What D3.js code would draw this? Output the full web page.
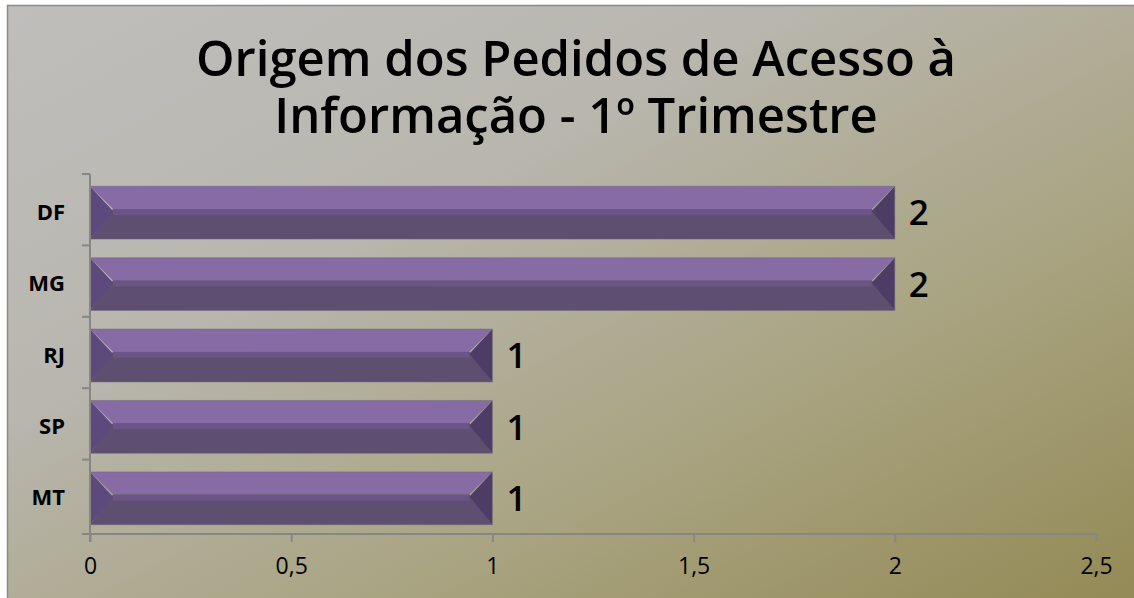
<!DOCTYPE html>
<html>
<head>
<meta charset="utf-8">
<script src="https://cdn.jsdelivr.net/npm/d3@7"></script>
<style>
  body { margin: 0; background: #ffffff; overflow: hidden; }
  svg { display: block; }
</style>
</head>
<body>
<svg id="chart" width="1134" height="598"></svg>
<script>
// data
const states = ['DF', 'MG', 'RJ', 'SP', 'MT'];
const pedidos = [2, 2, 1, 1, 1];
const xTicks = [0, 0.5, 1, 1.5, 2, 2.5];
const titleLines = ['Origem dos Pedidos de Acesso à', 'Informação - 1º Trimestre'];

const svg = d3.select('#chart');
const width = +svg.attr('width');
const height = +svg.attr('height');

const margin = {top: 177, left: 90, right: 38, bottom: 64};

// background gradient, grey top-left to olive bottom-right
const defs = svg.append('defs');
const bg = defs.append('linearGradient')
    .attr('id', 'bg-grad')
    .attr('x1', '0%').attr('y1', '0%')
    .attr('x2', '100%').attr('y2', '100%');
bg.append('stop').attr('offset', '0%').attr('stop-color', '#bfbebc');
bg.append('stop').attr('offset', '35%').attr('stop-color', '#b8b6ae');
bg.append('stop').attr('offset', '65%').attr('stop-color', '#aaa584');
bg.append('stop').attr('offset', '100%').attr('stop-color', '#948a56');

svg.append('rect')
    .attr('x', 7).attr('y', 5)
    .attr('width', width - 7).attr('height', height - 5)
    .attr('fill', 'url(#bg-grad)');
// only top and left edges of the frame are inside the picture
svg.append('path')
    .attr('d', `M7.5,${height}V5.5H${width}`)
    .attr('fill', 'none')
    .attr('stroke', '#8a8a8a')
    .attr('stroke-width', 1.5);

// title
svg.append('text')
    .attr('text-anchor', 'middle')
    .attr('font-family', 'Open Sans, sans-serif')
    .attr('font-weight', 600)
    .attr('font-size', 49)
    .attr('fill', '#000')
    .selectAll('tspan')
    .data(titleLines)
    .join('tspan')
        .attr('x', 576)
        .attr('y', (d, i) => 76 + i * 57)
        .text(d => d);

const x = d3.scaleLinear()
    .domain([0, 2.5])
    .range([margin.left, width - margin.right]);

const y = d3.scaleBand()
    .domain(states)
    .range([margin.top, height - margin.bottom])
    .paddingInner(0.26)
    .paddingOuter(0.13);

const axisColor = '#868686';

// bars with a bevelled look
const bars = svg.append('g').selectAll('g')
    .data(states.map((s, i) => ({state: s, value: pedidos[i]})))
    .join('g');

const bev = 23;
const pts = arr => arr.map(p => p.join(',')).join(' ');

bars.each(function(d) {
    const g = d3.select(this);
    const x0 = x(0), x1 = x(d.value);
    const y0 = y(d.state), y1 = y0 + y.bandwidth();
    const mid = y0 + y.bandwidth() * 0.43;
    g.append('polygon')
        .attr('points', pts([[x0, y0], [x1, y0], [x1 - bev, mid], [x0 + bev, mid]]))
        .attr('fill', '#876ba5');
    g.append('polygon')
        .attr('points', pts([[x0 + bev, mid], [x1 - bev, mid], [x1, y1], [x0, y1]]))
        .attr('fill', '#5e4f70');
    g.append('rect')
        .attr('x', x0 + bev).attr('y', mid)
        .attr('width', Math.max(0, x1 - x0 - 2 * bev)).attr('height', 6)
        .attr('fill', '#6a5586');
    g.append('polygon')
        .attr('points', pts([[x0, y0], [x0 + bev, mid + 2], [x0, y1]]))
        .attr('fill', '#5c4a7c');
    g.append('polygon')
        .attr('points', pts([[x1, y0], [x1, y1], [x1 - bev, mid + 2]]))
        .attr('fill', '#4d3d66');
    g.append('rect')
        .attr('x', x0).attr('y', y0)
        .attr('width', x1 - x0).attr('height', y1 - y0)
        .attr('fill', 'none')
        .attr('stroke', '#6f6a78')
        .attr('stroke-opacity', 0.5);
});

// value labels
bars.append('text')
    .attr('x', d => x(d.value) + 14)
    .attr('y', d => y(d.state) + y.bandwidth() / 2)
    .attr('dy', '0.36em')
    .attr('font-family', 'Open Sans, sans-serif')
    .attr('font-weight', 600)
    .attr('font-size', 35)
    .attr('fill', '#000')
    .text(d => d.value);

// x axis
const xAxis = svg.append('g')
    .attr('transform', `translate(0,${height - margin.bottom})`)
    .call(d3.axisBottom(x)
        .tickValues(xTicks)
        .tickSize(8)
        .tickPadding(16)
        .tickFormat(d => String(d).replace('.', ',')));
xAxis.select('.domain').attr('stroke', axisColor).attr('stroke-width', 2)
    .attr('d', `M${x(0) - 8},0H${x(2.5)}`);
xAxis.selectAll('.tick line').attr('stroke', axisColor).attr('stroke-width', 2);
xAxis.selectAll('.tick text')
    .attr('font-family', 'Open Sans, sans-serif')
    .attr('font-size', 23)
    .attr('fill', '#000');

// y axis
const yAxis = svg.append('g')
    .attr('transform', `translate(${margin.left},0)`)
    .call(d3.axisLeft(y).tickSize(0).tickPadding(25));
yAxis.select('.domain').attr('stroke', axisColor).attr('stroke-width', 2)
    .attr('d', `M0,${margin.top - 3}V${height - margin.bottom + 8}`);
yAxis.selectAll('.tick text')
    .attr('font-family', 'Open Sans, sans-serif')
    .attr('font-weight', 700)
    .attr('font-size', 22)
    .attr('fill', '#000');

// band boundary ticks on the category axis
const bounds = states.map(s => y(s) - y.step() * y.paddingInner() / 2 - 3)
    .concat([height - margin.bottom]);
yAxis.selectAll('.bound')
    .data(bounds)
    .join('line')
        .attr('class', 'bound')
        .attr('x1', -8).attr('x2', 0)
        .attr('y1', d => d).attr('y2', d => d)
        .attr('stroke', axisColor)
        .attr('stroke-width', 2);
</script>
</body>
</html>
